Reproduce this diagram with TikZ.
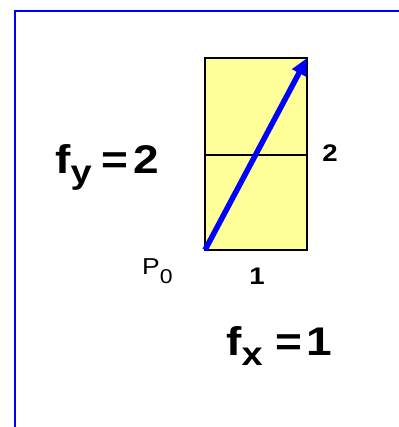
\documentclass[tikz,border=0pt]{standalone}
\usepackage{fontspec}
\setmainfont{Liberation Sans}
\usetikzlibrary{arrows.meta}

\definecolor{cellyellow}{RGB}{255,255,153}
\newcommand{\wide}[1]{\scalebox{1.15}[1]{#1}}
\newcommand{\lowsub}[2]{\raisebox{-#1pt}{\fontsize{33}{33}\selectfont #2}}

\begin{document}
\begin{tikzpicture}[x=1pt, y=-1pt]

% Frame
\useasboundingbox (0,0) rectangle (398,427);
\draw[blue, line width=2pt] (15,430) -- (15,11) -- (400,11);

% Cells
\coordinate (p0) at (205,250);
\coordinate (tip) at (307,58);
\coordinate (midleft) at (205,155);
\coordinate (midright) at (307,155);
\draw[fill=cellyellow, line width=1.3pt] (p0) rectangle (tip);
\draw[line width=1.3pt] (midleft) -- (midright);

% Vector
\draw[blue, line width=5.5pt, -{Triangle[length=17pt,width=15pt]}] (p0) -- (tip);

% Labels
\node[anchor=base west, inner sep=0] (plabel) at (142,274)
  {\wide{\fontsize{23}{23}\selectfont P\raisebox{-9pt}{\fontsize{20}{20}\selectfont 0}}};
\node[anchor=base, inner sep=0] (xcount) at (257,284)
  {\wide{\fontsize{24}{24}\selectfont\bfseries 1}};
\node[anchor=base, inner sep=0] (ycount) at (330,162)
  {\wide{\fontsize{24}{24}\selectfont\bfseries 2}};

% Factors
\node[anchor=base west, inner sep=0] (fy) at (55,174)
  {\wide{\fontsize{40}{40}\selectfont\bfseries f\lowsub{10}{y}\hspace{9pt}=\hspace{4pt}2}};
\node[anchor=base west, inner sep=0] (fx) at (226,355)
  {\wide{\fontsize{40}{40}\selectfont\bfseries f\lowsub{10}{x}\hspace{11pt}=\hspace{4pt}1}};

\end{tikzpicture}
\end{document}
